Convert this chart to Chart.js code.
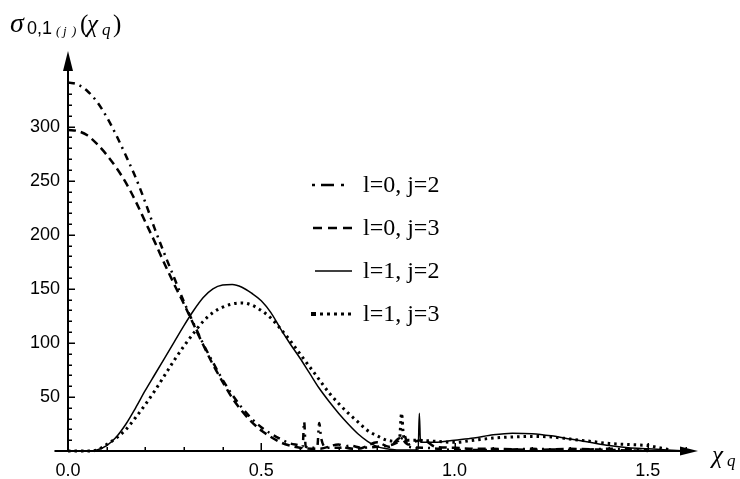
<!DOCTYPE html>
<html><head><meta charset="utf-8">
<script src="https://cdn.jsdelivr.net/npm/chart.js@4.4.1/dist/chart.umd.min.js"></script>
<style>html,body{margin:0;padding:0;background:#fff;}#wrap{position:relative;width:740px;height:479px;}</style>
</head><body><div id="wrap"><canvas id="c" width="740" height="479"></canvas></div>
<script>
// ---- data ----
const seriesLabels = ['l=0, j=2', 'l=0, j=3', 'l=1, j=2', 'l=1, j=3'];

const xL0J2 = [0,0.025,0.05,0.075,0.1,0.125,0.15,0.175,0.2,0.225,0.25,0.275,0.3,0.325,0.35,0.375,0.4,0.425,0.45,0.475,0.5,0.525,0.55,0.575,0.6,0.607,0.611,0.615,0.63,0.645,0.65,0.655,0.67,0.7,0.73,0.76,0.8,0.84,0.86,0.87,0.88,0.92,0.96,1.0,1.1,1.2,1.3,1.4,1.5];
const yL0J2 = [341,339,333,323,309,292,273,253,230,205,182,160,138,118,99,82,66,52,40,30,22,16,11,7,5,4,27,4,3,4,26,12,3,3,5,3,4,6,10,15,4,3,2,1,1,2,1,2,1];

const xL0J3 = [0,0.025,0.05,0.075,0.1,0.125,0.15,0.175,0.2,0.225,0.25,0.275,0.3,0.325,0.35,0.375,0.4,0.425,0.45,0.475,0.5,0.525,0.55,0.575,0.6,0.65,0.7,0.72,0.75,0.8,0.83,0.86,0.88,0.9,0.92,0.95,1.0,1.05,1.1,1.2,1.3,1.4,1.5];
const yL0J3 = [297,296,292,284,274,262,248,231,212,193,173,154,136,117,98,80,64,49,37,27,19,13,8,5,3,2,6,3,2,8,4,12,6,9,10,4,3,2,2,1,2,1,0];

const xL1J2 = [0,0.05,0.075,0.1,0.125,0.15,0.175,0.2,0.225,0.25,0.275,0.3,0.325,0.35,0.375,0.4,0.425,0.45,0.475,0.5,0.525,0.55,0.575,0.6,0.625,0.65,0.675,0.7,0.725,0.75,0.775,0.8,0.825,0.85,0.9,0.906,0.909,0.912,0.95,1.0,1.05,1.1,1.15,1.2,1.25,1.3,1.35,1.4,1.45,1.5,1.55,1.6];
const yL1J2 = [0,0,1,5,13,25,40,56,71,86,101,116,130,142,150,153.5,154,151.5,146,139,128,113,99,86,72,58,46,35,25,16,9,4,2,1,1,1,35,8,8,10,12,15,16.5,16,14,11,8,5,3,2,1,0];

const xL1J3 = [0,0.05,0.075,0.1,0.125,0.15,0.175,0.2,0.225,0.25,0.275,0.3,0.325,0.35,0.375,0.4,0.425,0.45,0.475,0.5,0.525,0.55,0.575,0.6,0.625,0.65,0.675,0.7,0.725,0.75,0.775,0.8,0.825,0.85,0.858,0.863,0.868,0.88,0.9,0.95,1.0,1.05,1.1,1.15,1.2,1.25,1.3,1.35,1.4,1.45,1.5,1.53,1.56];
const yL1J3 = [0,0,1,6,12,20,31,43,56,70,84,97,109,120,128,133,136,137,135,130,123,113,102,90,78,66,54,44,35,27,19,14,10,9,12,35,14,10,10,9,8,10,12,13,13.5,13,11,9,7,6,5,3,1];

const xTickValues = [0, 0.5, 1, 1.5];
const xTickLabels = ['0.0', '0.5', '1.0', '1.5'];
const yTickValues = [50, 100, 150, 200, 250, 300];
const yTickLabels = ['50', '100', '150', '200', '250', '300'];

// ---- chart ----
const pts = (xs, ys) => xs.map((x, i) => ({x: x, y: ys[i]}));
const SERIF = '"Liberation Serif", "Times New Roman", serif';
const SANS = '"Liberation Sans", Arial, sans-serif';

const axesPlugin = {
  id: 'mathAxes',
  beforeDatasetsDraw(chart) {
    const {ctx, scales: {x, y}} = chart;
    const x0 = x.getPixelForValue(0), y0 = y.getPixelForValue(0);
    const xl = x.getPixelForValue(-0.035), xr = x.getPixelForValue(x.max);
    const yt = y.getPixelForValue(y.max);
    ctx.save();
    ctx.strokeStyle = '#000'; ctx.fillStyle = '#000';
    ctx.lineWidth = 2;
    ctx.beginPath();
    ctx.moveTo(xl, y0); ctx.lineTo(xr - 14, y0);
    ctx.moveTo(x0, y0); ctx.lineTo(x0, yt + 14);
    ctx.stroke();
    ctx.beginPath();
    ctx.moveTo(xr, y0); ctx.lineTo(xr - 18, y0 - 4.5); ctx.lineTo(xr - 18, y0 + 4.5); ctx.closePath(); ctx.fill();
    ctx.beginPath();
    ctx.moveTo(x0, yt); ctx.lineTo(x0 - 5, yt + 20); ctx.lineTo(x0 + 5, yt + 20); ctx.closePath(); ctx.fill();
    ctx.lineWidth = 1.5;
    for (let v = 10; v <= 340; v += 10) {
      const p = Math.round(y.getPixelForValue(v)) + 0.25;
      const L = v % 50 === 0 ? 7 : 4;
      ctx.beginPath(); ctx.moveTo(x0, p); ctx.lineTo(x0 + L, p); ctx.stroke();
    }
    for (let i = 1; i <= 16; i++) {
      const p = Math.round(x.getPixelForValue(i / 10)) + 0.25;
      const L = i % 5 === 0 ? 8 : 4;
      ctx.beginPath(); ctx.moveTo(p, y0); ctx.lineTo(p, y0 - L); ctx.stroke();
    }
    ctx.restore();
  },
  afterDraw(chart) {
    const ctx = chart.ctx;
    ctx.save();
    ctx.fillStyle = '#000';
    ctx.textBaseline = 'alphabetic';
    // title  sigma_{0,1 (j)}(chi_q)
    ctx.font = 'italic 28px ' + SERIF; ctx.fillText('σ', 10, 32);
    ctx.font = '18px ' + SANS; ctx.fillText('0,1', 27, 34);
    ctx.font = 'italic 13px ' + SERIF; ctx.fillText('(', 56, 35); ctx.fillText('j', 63, 35); ctx.fillText(')', 72, 35);
    ctx.font = '25px ' + SERIF; ctx.fillText('(', 80, 32);
    ctx.font = 'italic 25px ' + SERIF; ctx.fillText('χ', 87, 32);
    ctx.font = 'italic 17px ' + SERIF; ctx.fillText('q', 102, 35);
    ctx.font = '25px ' + SERIF; ctx.fillText(')', 113, 32);
    // x label chi_q
    ctx.font = 'italic 25px ' + SERIF; ctx.fillText('χ', 712, 463);
    ctx.font = 'italic 17px ' + SERIF; ctx.fillText('q', 727, 466);
    // legend
    const rows = [185, 228, 271, 314];
    ctx.strokeStyle = '#000';
    ctx.lineWidth = 2.5;
    ctx.beginPath();
    ctx.moveTo(312, rows[0]); ctx.lineTo(315, rows[0]);
    ctx.moveTo(321, rows[0]); ctx.lineTo(334, rows[0]);
    ctx.moveTo(341, rows[0]); ctx.lineTo(344, rows[0]);
    ctx.stroke();
    ctx.setLineDash([9, 6]);
    ctx.beginPath(); ctx.moveTo(313, rows[1]); ctx.lineTo(352, rows[1]); ctx.stroke();
    ctx.setLineDash([]); ctx.lineWidth = 1.5;
    ctx.beginPath(); ctx.moveTo(315, rows[2]); ctx.lineTo(352, rows[2]); ctx.stroke();
    ctx.setLineDash([3, 4]); ctx.lineWidth = 3;
    ctx.beginPath(); ctx.moveTo(313, rows[3]); ctx.lineTo(351, rows[3]); ctx.stroke();
    ctx.setLineDash([]);
    ctx.fillRect(311, rows[3] - 2, 5, 4);
    ctx.font = '24px ' + SERIF;
    seriesLabels.forEach((t, i) => ctx.fillText(t, 363, rows[i] + 7));
    ctx.restore();
  }
};

const common = {pointRadius: 0, borderColor: '#000', fill: false, clip: false, cubicInterpolationMode: 'monotone'};

new Chart(document.getElementById('c'), {
  type: 'line',
  data: {
    datasets: [
      Object.assign({label: seriesLabels[0], data: pts(xL0J2, yL0J2), borderWidth: 2.5, borderDash: [7, 5, 2, 5]}, common),
      Object.assign({label: seriesLabels[1], data: pts(xL0J3, yL0J3), borderWidth: 2.5, borderDash: [8, 5]}, common),
      Object.assign({label: seriesLabels[2], data: pts(xL1J2, yL1J2), borderWidth: 1.5}, common),
      Object.assign({label: seriesLabels[3], data: pts(xL1J3, yL1J3), borderWidth: 3, borderDash: [2.5, 4]}, common)
    ]
  },
  options: {
    responsive: false,
    animation: false,
    events: [],
    layout: {padding: {top: 51, right: 42, left: 0, bottom: 0}},
    plugins: {legend: {display: false}, tooltip: {enabled: false}, title: {display: false}},
    scales: {
      x: {
        type: 'linear', min: 0, max: 1.63,
        afterFit: s => { s.height = 28; },
        afterBuildTicks: s => { s.ticks = xTickValues.map(v => ({value: v})); },
        ticks: {callback: v => xTickLabels[xTickValues.indexOf(v)], font: {family: SANS, size: 18}, color: '#000', padding: 9, maxRotation: 0, autoSkip: false},
        grid: {display: false, drawTicks: false}, border: {display: false}
      },
      y: {
        type: 'linear', min: 0, max: 370,
        afterFit: s => { s.width = 68; },
        afterBuildTicks: s => { s.ticks = yTickValues.map(v => ({value: v})); },
        ticks: {callback: v => yTickLabels[yTickValues.indexOf(v)], font: {family: SANS, size: 18}, color: '#000', padding: 8, autoSkip: false},
        grid: {display: false, drawTicks: false}, border: {display: false}
      }
    }
  },
  plugins: [axesPlugin]
});
</script></body></html>
